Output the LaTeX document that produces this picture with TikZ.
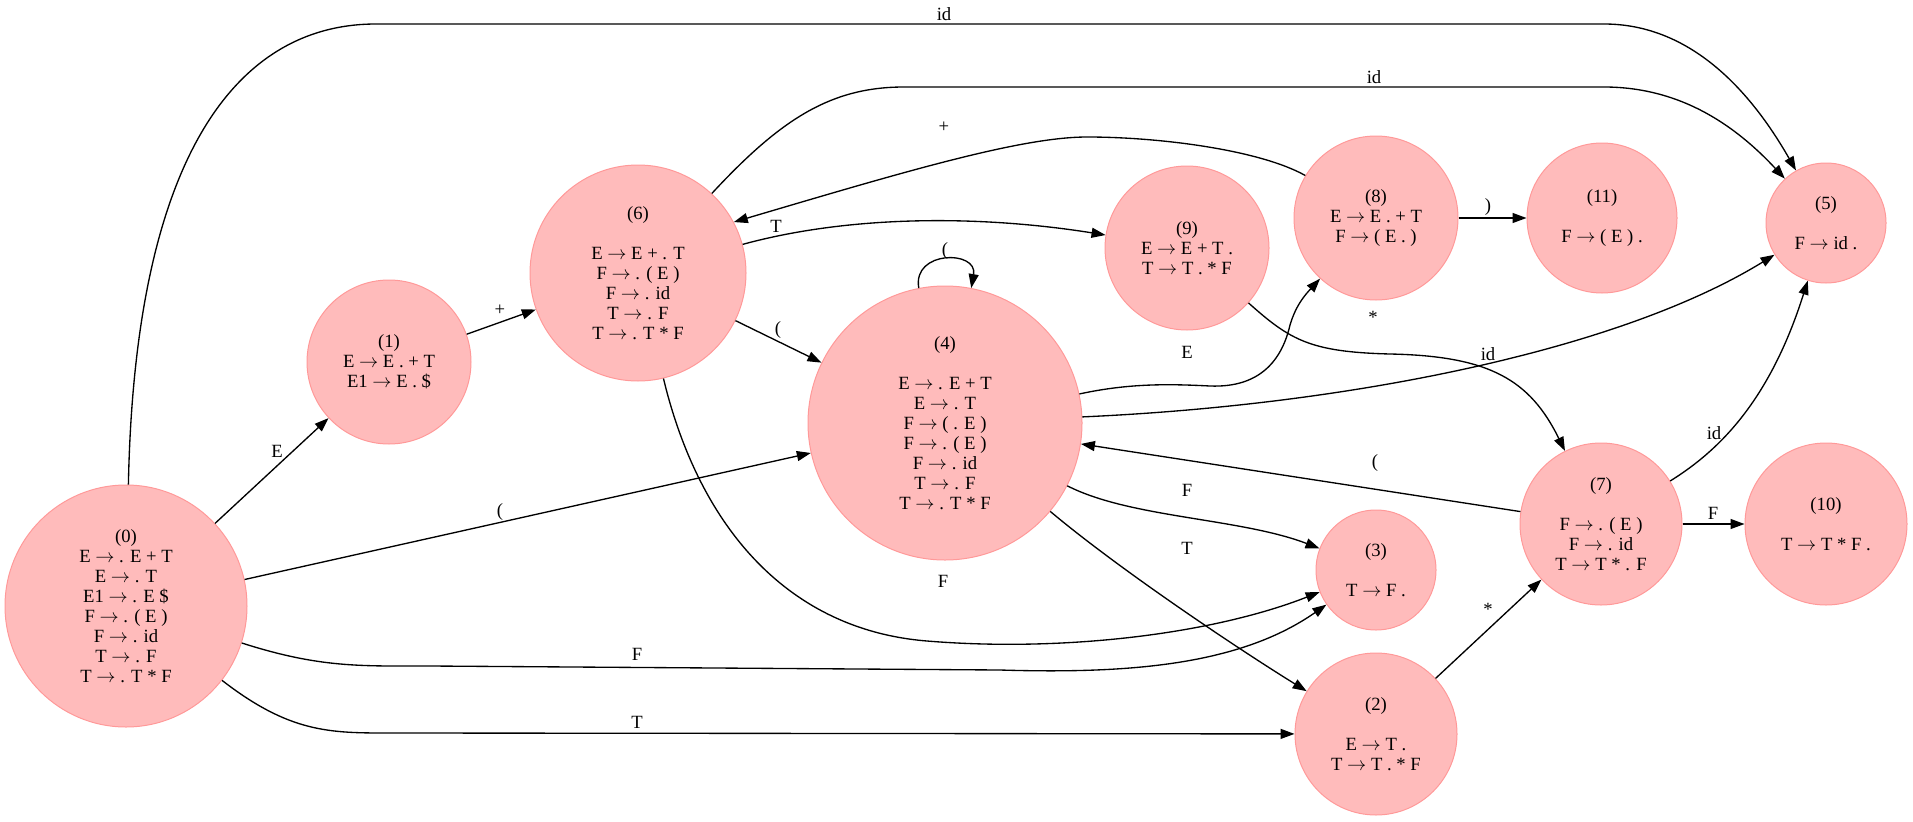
\documentclass[tikz,border=0pt]{standalone}
\usepackage{fontspec}
\setmainfont{Liberation Serif}
\usetikzlibrary{arrows.meta}
\definecolor{nodefill}{RGB}{255,187,187}
\definecolor{nodeline}{RGB}{255,153,153}
\newcommand{\rarr}{$\rightarrow$}
\begin{document}
\begin{tikzpicture}[x=0.75pt,y=-0.75pt,
  st/.style={circle, fill=nodefill, draw=nodeline, line width=0.75pt, inner sep=0pt, align=center, font=\fontsize{14}{15}\selectfont},
  conn/.style={draw, line width=1pt, -{Triangle[length=10.5pt,width=7.5pt]}},
  lab/.style={inner sep=0pt, font=\fontsize{14}{15}\selectfont}]
\useasboundingbox (0,0) rectangle (1913,821);

\node[st, minimum size=181.5pt] (n0) at (126,606) {(0)\\E \rarr{} . E + T\\E \rarr{} . T\\E1 \rarr{} . E \$\\F \rarr{} . ( E )\\F \rarr{} . id\\T \rarr{} . F\\T \rarr{} . T * F};
\node[st, minimum size=123pt] (n1) at (389,362) {(1)\\E \rarr{} E . + T\\E1 \rarr{} E . \$};
\node[st, minimum size=162pt] (n6) at (638,273) {(6)\\[15pt]E \rarr{} E + . T\\F \rarr{} . ( E )\\F \rarr{} . id\\T \rarr{} . F\\T \rarr{} . T * F};
\node[st, minimum size=205.5pt] (n4) at (945,423) {(4)\\[15pt]E \rarr{} . E + T\\E \rarr{} . T\\F \rarr{} ( . E )\\F \rarr{} . ( E )\\F \rarr{} . id\\T \rarr{} . F\\T \rarr{} . T * F};
\node[st, minimum size=123pt] (n9) at (1187,248) {(9)\\E \rarr{} E + T .\\T \rarr{} T . * F};
\node[st, minimum size=123pt] (n8) at (1376,218) {(8)\\E \rarr{} E . + T\\F \rarr{} ( E . )};
\node[st, minimum size=112.5pt] (n11) at (1602,218) {(11)\\[15pt]F \rarr{} ( E ) .};
\node[st, minimum size=90pt] (n5) at (1826,223) {(5)\\[15pt]F \rarr{} id .};
\node[st, minimum size=121.5pt] (n7) at (1601,524) {(7)\\[15pt]F \rarr{} . ( E )\\F \rarr{} . id\\T \rarr{} T * . F};
\node[st, minimum size=121.5pt] (n10) at (1826,524) {(10)\\[15pt]T \rarr{} T * F .};
\node[st, minimum size=90pt] (n3) at (1376,570) {(3)\\[15pt]T \rarr{} F .};
\node[st, minimum size=121.5pt] (n2) at (1376,734) {(2)\\[15pt]E \rarr{} T .\\T \rarr{} T . * F};

% edges from 0
\draw[conn] (n0) .. controls (135,150) and (240,24) .. (376,24) -- (1604,24) .. controls (1690,24) and (1750,90) .. (n5);
\node[lab] (l05) at (944,14) {id};
\draw[conn] (n0) -- (n1);
\node[lab] (l01) at (277,451) {E};
\draw[conn] (n0) -- (n4);
\node[lab] (l04) at (500,512) {(};
\draw[conn] (n0) .. controls (320,668) and (360,666) .. (430,666) -- (1000,670) .. controls (1130,674) and (1240,665) .. (n3);
\node[lab] (l03) at (637,654) {F};
\draw[conn] (n0) .. controls (290,733) and (330,733) .. (390,733) -- (n2);
\node[lab] (l02) at (637,722) {T};

% edges from 1
\draw[conn] (n1) -- (n6);
\node[lab] (l16) at (500,310) {+};

% edges from 6
\draw[conn] (n6) .. controls (780,120) and (830,87) .. (904,87) -- (1604,87) .. controls (1680,87) and (1735,125) .. (n5);
\node[lab] (l65) at (1374,77) {id};
\draw[conn] (n6) .. controls (850,215) and (980,215) .. (n9);
\node[lab] (l69) at (776,226) {T};
\draw[conn] (n6) -- (n4);
\node[lab] (l64) at (778,330) {(};
\draw[conn] (n6) .. controls (700,530) and (790,630) .. (927,641) .. controls (1060,652) and (1210,635) .. (n3);
\node[lab] (l63) at (943,581) {F};

% edges from 4
\draw[conn] (n4.101) .. controls (912,250) and (978,250) .. (n4.79);
\node[lab] (l44) at (945,251) {(};
\draw[conn] (n4) .. controls (1130,383) and (1170,384) .. (1210,386) .. controls (1260,388) and (1282,360) .. (1290,325) .. controls (1296,305) and (1305,295) .. (n8);
\node[lab] (l48) at (1187,352) {E};
\draw[conn] (n4) .. controls (1350,405) and (1620,350) .. (n5);
\node[lab] (l45) at (1488,354) {id};
\draw[conn] (n4) .. controls (1130,518) and (1240,518) .. (n3);
\node[lab] (l43) at (1187,490) {F};
\draw[conn] (n4) .. controls (1120,570) and (1240,650) .. (n2);
\node[lab] (l42) at (1187,548) {T};

% edges from 7
\draw[conn] (n7) -- (n4);
\node[lab] (l74) at (1375,463) {(};
\draw[conn] (n7) .. controls (1720,450) and (1770,400) .. (n5);
\node[lab] (l75) at (1714,433) {id};
\draw[conn] (n7) -- (n10);
\node[lab] (l710) at (1713,513) {F};

% edges from 2
\draw[conn] (n2) -- (n7);
\node[lab] (l27) at (1488,609) {*};

% edges from 9
\draw[conn] (n9) .. controls (1290,340) and (1310,352) .. (1390,354) .. controls (1490,356) and (1530,380) .. (n7);
\node[lab] (l97) at (1373,317) {*};

% edges from 8
\draw[conn] (n8.149) .. controls (1260,150) and (1160,137) .. (1087,137) .. controls (1020,137) and (900,173) .. (n6.28);
\node[lab] (l86) at (944,127) {+};
\draw[conn] (n8) -- (n11);
\node[lab] (l811) at (1488,207) {)};
\end{tikzpicture}
\end{document}
